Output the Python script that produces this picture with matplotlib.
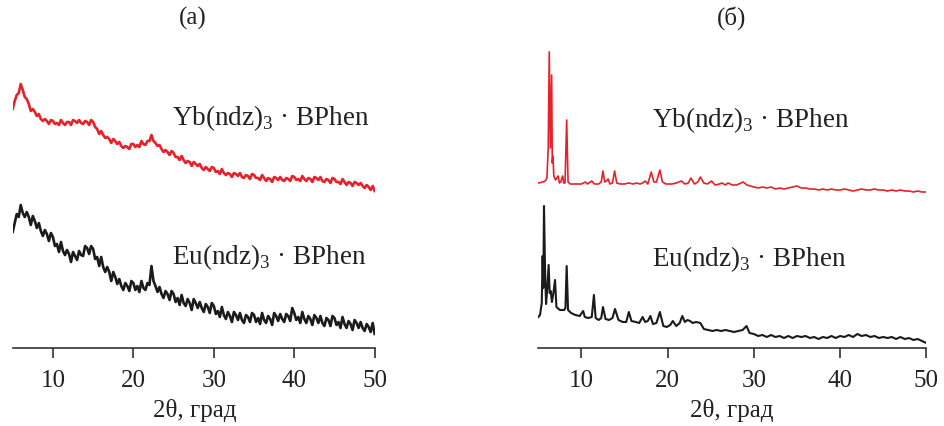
import numpy as np
import matplotlib
matplotlib.use("Agg")
import matplotlib.pyplot as plt

plt.rcParams['font.family'] = ['Liberation Serif', 'DejaVu Serif']
plt.rcParams['mathtext.fontset'] = 'custom'
plt.rcParams['mathtext.rm'] = 'Liberation Serif'

# ---------------- panel (a): amorphous patterns, 0.25 deg step ----------------
theta_a = np.arange(5.0, 50.001, 0.25)

yb_a = [
    239, 247, 253, 255, 264, 258, 251, 249, 244, 237, 239, 236,
    232, 234, 229, 227, 229, 227, 224, 228, 227, 224, 225, 223,
    228, 225, 223, 226, 226, 223, 228, 227, 225, 228, 225, 224,
    227, 226, 223, 228, 226, 221, 219, 214, 217, 213, 210, 211,
    209, 205, 209, 207, 204, 206, 202, 200, 202, 201, 199, 204,
    204, 201, 203, 201, 207, 204, 203, 207, 207, 213, 207, 205,
    202, 203, 199, 196, 198, 196, 193, 197, 195, 191, 191, 188,
    192, 188, 185, 187, 186, 182, 186, 184, 182, 184, 180, 178,
    181, 179, 177, 181, 180, 176, 177, 174, 179, 175, 173, 175,
    174, 171, 175, 174, 172, 175, 171, 170, 173, 172, 169, 174,
    173, 170, 170, 168, 173, 170, 167, 170, 169, 166, 171, 170,
    168, 171, 168, 167, 170, 169, 167, 172, 171, 168, 169, 167,
    172, 169, 167, 170, 169, 166, 171, 170, 168, 171, 167, 166,
    169, 168, 165, 170, 169, 166, 166, 164, 169, 166, 163, 166,
    165, 162, 166, 165, 163, 165, 162, 160, 163, 161, 158, 162,
    157,
]

eu_a = [
    116, 125, 134, 131, 143, 135, 131, 136, 131, 123, 132, 127,
    120, 125, 117, 112, 118, 114, 107, 115, 111, 102, 104, 96,
    106, 97, 93, 98, 94, 86, 96, 92, 88, 97, 93, 92,
    102, 100, 94, 102, 99, 89, 91, 82, 91, 81, 76, 81,
    76, 67, 76, 71, 64, 69, 62, 58, 65, 62, 57, 67,
    65, 58, 62, 56, 67, 60, 58, 65, 63, 82, 67, 62,
    56, 61, 54, 50, 57, 54, 48, 57, 54, 46, 50, 43,
    53, 45, 42, 49, 45, 38, 49, 45, 40, 46, 40, 36,
    44, 41, 35, 45, 42, 34, 37, 31, 41, 33, 29, 36,
    32, 26, 36, 33, 28, 35, 28, 25, 33, 31, 26, 35,
    33, 26, 30, 24, 35, 28, 25, 32, 29, 23, 35, 32,
    27, 34, 29, 26, 34, 32, 27, 40, 35, 28, 31, 25,
    36, 29, 25, 32, 29, 23, 33, 30, 25, 32, 25, 22,
    30, 28, 22, 32, 30, 23, 26, 20, 31, 24, 20, 27,
    24, 18, 28, 25, 20, 26, 20, 17, 24, 21, 16, 25,
    14,
]

# ---------------- panel (б): crystalline patterns ----------------
yb_b_theta = [
    5.0, 5.5, 5.8, 6.0, 6.15, 6.27, 6.4, 6.55, 6.62, 6.7,
    6.8, 7.0, 7.3, 7.45, 7.6, 7.83, 7.95, 8.1, 8.29, 8.45,
    8.7, 9.0, 9.5, 10.0, 10.45, 10.7, 11.2, 11.5, 12.0, 12.3,
    12.5, 12.7, 12.9, 13.1, 13.3, 13.6, 13.85, 14.1, 14.5, 15.0,
    15.5, 16.0, 16.4, 16.8, 17.1, 17.4, 17.7, 18.1, 18.4, 18.7,
    19.1, 19.4, 19.8, 20.5, 21.0, 21.6, 22.0, 22.4, 22.7, 23.1,
    23.5, 23.8, 24.2, 24.6, 25.1, 25.5, 26.0, 26.3, 26.7, 27.0,
    27.5, 28.0, 28.75, 29.2,
    30.0, 30.5, 31.0, 31.5, 32.0, 32.5, 33.0, 33.5, 34.0, 34.5,
    35.0, 35.5, 36.0, 36.5, 37.0, 37.5, 38.0, 38.5, 39.0, 39.5,
    40.0, 40.5, 41.0, 41.5, 42.0, 42.5, 43.0, 43.5, 44.0, 44.5,
    45.0, 45.5, 46.0, 46.5, 47.0, 47.5, 48.0, 48.5, 49.0, 49.5,
    50.0,
]
yb_b = [
    165, 166, 167, 170, 200, 296, 200, 273, 185, 192,
    172, 168, 172, 165, 166, 172, 165, 165, 228, 166,
    164, 164, 164, 164, 166, 164, 167, 164, 164, 166,
    177, 166, 167, 169, 164, 165, 177, 165, 164, 164,
    165, 164, 165, 164, 165, 167, 164, 176, 166, 166,
    178, 166, 164, 164, 165, 167, 164, 165, 170, 164,
    166, 171, 165, 164, 167, 163, 164, 165, 163, 165,
    163, 163, 166, 163,
    161, 160, 161, 160, 161, 159, 160, 159, 160, 161,
    162, 160, 160, 159, 159, 158, 159, 158, 159, 158,
    158, 159, 158, 157, 158, 159, 158, 158, 159, 158,
    158, 157, 158, 157, 158, 157, 157, 156, 157, 156,
    156,
]

eu_b_theta = [
    5.0, 5.2, 5.4, 5.5, 5.58, 5.66, 5.78, 5.9, 6.05, 6.2,
    6.32, 6.44, 6.58, 6.75, 6.94, 7.1, 7.5, 8.0, 8.15, 8.29,
    8.45, 8.8, 9.3, 9.8, 10.2, 10.4, 10.8, 11.2, 11.45, 11.65,
    12.0, 12.3, 12.5, 12.8, 13.2, 13.6, 13.9, 14.3, 14.8, 15.2,
    15.5, 15.8, 16.3, 16.7, 17.1, 17.4, 17.7, 18.0, 18.3, 18.7,
    19.1, 19.5, 19.9, 20.3, 20.6, 21.0, 21.4, 21.7, 22.0, 22.3,
    22.6, 22.9, 23.3, 23.8, 24.2, 24.7, 25.2, 25.7, 26.2, 26.7,
    27.2, 27.7, 28.2, 28.7, 29.15, 29.5,
    30.0, 30.5, 31.0, 31.5, 32.0, 32.5, 33.0, 33.5, 34.0, 34.5,
    35.0, 35.5, 36.0, 36.5, 37.0, 37.5, 38.0, 38.5, 39.0, 39.5,
    40.0, 40.5, 41.0, 41.5, 42.0, 42.5, 43.0, 43.5, 44.0, 44.5,
    45.0, 45.5, 46.0, 46.5, 47.0, 47.5, 48.0, 48.5, 49.0, 49.5,
    50.0,
]
eu_b = [
    31, 33, 45, 92, 60, 142, 80, 44, 60, 83,
    55, 57, 46, 55, 68, 41, 38, 38, 40, 82,
    38, 35, 33, 32, 37, 31, 30, 31, 53, 30,
    28, 30, 41, 29, 28, 30, 39, 28, 26, 26,
    36, 27, 26, 25, 31, 26, 27, 32, 24, 25,
    36, 22, 21, 23, 27, 22, 25, 32, 26, 28,
    27, 25, 26, 25, 19, 18, 17, 18, 17, 18,
    17, 16, 17, 18, 22, 15,
    14, 12, 13, 11, 13, 11, 12, 10, 12, 10,
    12, 11, 12, 10, 11, 9, 11, 10, 12, 10,
    12, 11, 13, 11, 14, 12, 13, 11, 12, 10,
    11, 10, 11, 9, 11, 9, 10, 8, 9, 7,
    5,
]

x_ticks = [10, 20, 30, 40, 50]
panel_titles = ["(а)", "(б)"]
yb_label = r"Yb(ndz)$_\mathregular{3}$ · BPhen"
eu_label = r"Eu(ndz)$_\mathregular{3}$ · BPhen"
x_label = "2θ, град"

RED = "#e8202a"
BLACK = "#1c1a1a"
TXT = "#222222"

W, H = 944, 427
fig = plt.figure(figsize=(W / 100, H / 100), dpi=100)

def fx(px):
    return px / W

def fy(py):
    return 1 - py / H

bottom_px, top_px = 349, 45
axL = fig.add_axes([fx(12.7), fy(bottom_px), fx(374.7 - 12.7), (bottom_px - top_px) / H])
axR = fig.add_axes([fx(538.3), fy(bottom_px), fx(926.3 - 538.3), (bottom_px - top_px) / H])

axL.plot(theta_a, yb_a, color=RED, lw=1.9)
axL.plot(theta_a, eu_a, color=BLACK, lw=1.9)
axR.plot(yb_b_theta, yb_b, color=RED, lw=1.2)
axR.plot(eu_b_theta, eu_b, color=BLACK, lw=1.5)

for ax in (axL, axR):
    ax.set_xlim(5, 50)
    ax.set_ylim(0, bottom_px - top_px)
    for s in ("left", "right", "top"):
        ax.spines[s].set_visible(False)
    ax.spines["bottom"].set_linewidth(1.1)
    ax.spines["bottom"].set_color(TXT)
    ax.set_yticks([])
    ax.set_xticks(x_ticks)
    ax.tick_params(axis="x", direction="out", length=7, width=1.1, pad=8,
                   labelsize=18, colors=TXT)
    ax.set_facecolor("none")

# sample labels
LFS = 19.5
axL.text(0.441, 349 - 118, yb_label, transform=axL.get_yaxis_transform(),
         fontsize=LFS, ha="left", va="center", color=TXT)
axL.text(0.441, 349 - 257, eu_label, transform=axL.get_yaxis_transform(),
         fontsize=LFS, ha="left", va="center", color=TXT)
axR.text(0.292, 349 - 120, yb_label, transform=axR.get_yaxis_transform(),
         fontsize=LFS, ha="left", va="center", color=TXT)
axR.text(0.292, 349 - 259, eu_label, transform=axR.get_yaxis_transform(),
         fontsize=LFS, ha="left", va="center", color=TXT)

# panel titles
fig.text(fx(193), fy(18), panel_titles[0], ha="center", va="center", fontsize=18, color=TXT)
fig.text(fx(732), fy(18), panel_titles[1], ha="center", va="center", fontsize=18, color=TXT)

# x labels
fig.text(fx(195), fy(411), x_label, ha="center", va="center", fontsize=18, color=TXT)
fig.text(fx(732), fy(411), x_label, ha="center", va="center", fontsize=18, color=TXT)

fig.savefig("out.png", dpi=100)
